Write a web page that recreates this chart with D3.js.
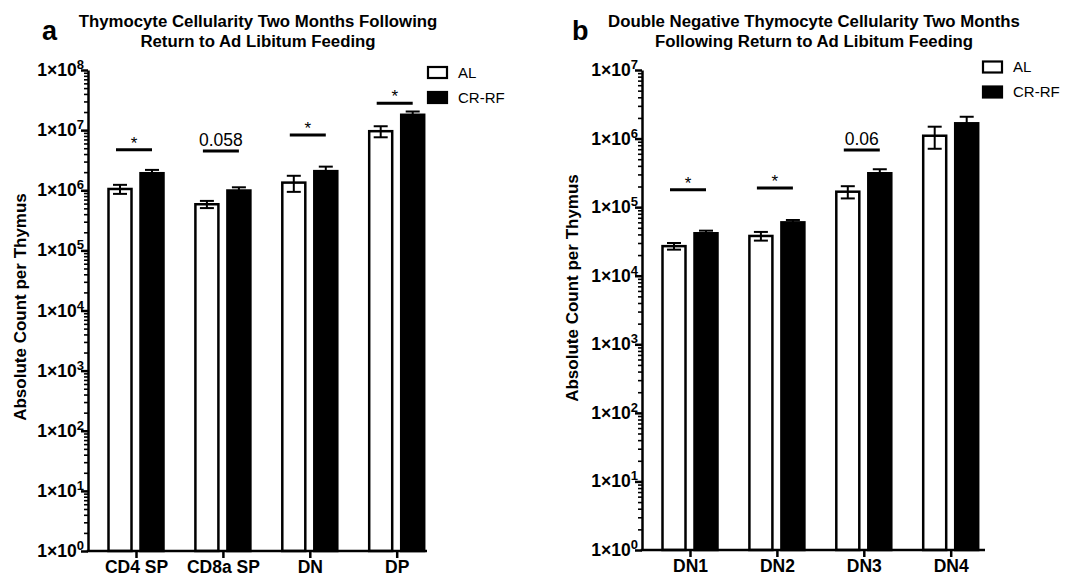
<!DOCTYPE html>
<html>
<head>
<meta charset="utf-8">
<script src="https://cdn.jsdelivr.net/npm/d3@7"></script>
<style>
  body { margin: 0; background: #fff; }
  svg text { font-family: "Liberation Sans", Arial, Helvetica, sans-serif; fill: #000; }
</style>
</head>
<body>
<svg id="chart" width="1074" height="579"></svg>
<script>
// panel a
const CATS_A = ["CD4 SP", "CD8a SP", "DN", "DP"];
const AL_MEAN_A = [1.05e6, 5.85e5, 1.34e6, 9.6e6];
const AL_SEM_A = [1.8e5, 8e4, 4e5, 2e6];
const CR_MEAN_A = [1.92e6, 9.9e5, 2.08e6, 1.8e7];
const CR_SEM_A = [2.6e5, 1.3e5, 3.9e5, 2.4e6];
const SIG_TEXT_A = ["*", "0.058", "*", "*"];
const SIG_LEVEL_A = [4.7e6, 4.5e6, 8.3e6, 2.8e7];
const DECADES_A = [1e0, 1e1, 1e2, 1e3, 1e4, 1e5, 1e6, 1e7, 1e8];

// panel b
const CATS_B = ["DN1", "DN2", "DN3", "DN4"];
const AL_MEAN_B = [2.7e4, 3.8e4, 1.68e5, 1.1e6];
const AL_SEM_B = [3e3, 5.5e3, 3.4e4, 3.9e5];
const CR_MEAN_B = [4.16e4, 6.0e4, 3.12e5, 1.67e6];
const CR_SEM_B = [3.8e3, 5e3, 4.5e4, 4.1e5];
const SIG_TEXT_B = ["*", "*", "0.06", ""];
const SIG_LEVEL_B = [1.8e5, 1.9e5, 6.8e5, null];
const DECADES_B = [1e0, 1e1, 1e2, 1e3, 1e4, 1e5, 1e6, 1e7];

const SERIES = ["AL", "CR-RF"];

const svg = d3.select("#chart");

function minorTicks(decades) {
  const out = [];
  decades.slice(0, -1).forEach(d => {
    for (let k = 2; k <= 9; k++) out.push(d * k);
  });
  return out;
}

function drawPanel(p) {
  const g = svg.append("g");
  const y = d3.scaleLog()
    .domain([p.decades[0], p.decades[p.decades.length - 1]])
    .range([p.bottom, p.top]);
  const x = d3.scalePoint()
    .domain(p.cats)
    .range([p.axisX + 48, p.axisX + 48 + 86.9 * (p.cats.length - 1)]);

  // bars
  const rows = p.cats.map((c, i) => ({
    cat: c,
    vals: [
      { s: 0, mean: p.alMean[i], sem: p.alSem[i] },
      { s: 1, mean: p.crMean[i], sem: p.crSem[i] }
    ]
  }));
  const barW = 23;
  const offs = [-27.5 + barW / 2, 4.5 + barW / 2];

  rows.forEach(r => {
    r.vals.forEach(v => {
      const cx = x(r.cat) + offs[v.s];
      g.append("rect")
        .attr("x", cx - barW / 2)
        .attr("y", y(v.mean))
        .attr("width", barW)
        .attr("height", y(p.decades[0]) - y(v.mean))
        .attr("fill", v.s === 0 ? "#fff" : "#000")
        .attr("stroke", "#000")
        .attr("stroke-width", 2.5);
      const hi = y(v.mean + v.sem), lo = y(v.mean - v.sem);
      const eb = g.append("g").attr("stroke", "#000").attr("stroke-width", 2);
      eb.append("line").attr("x1", cx).attr("x2", cx).attr("y1", hi).attr("y2", lo);
      eb.append("line").attr("x1", cx - 7).attr("x2", cx + 7).attr("y1", hi).attr("y2", hi);
      eb.append("line").attr("x1", cx - 7).attr("x2", cx + 7).attr("y1", lo).attr("y2", lo);
    });
  });

  // significance markers
  p.cats.forEach((c, i) => {
    if (!p.sigText[i]) return;
    const ly = y(p.sigLevel[i]);
    const cx = x(c) - 2;
    g.append("line")
      .attr("x1", cx - 18).attr("x2", cx + 18)
      .attr("y1", ly).attr("y2", ly)
      .attr("stroke", "#000").attr("stroke-width", 3);
    const isStar = p.sigText[i] === "*";
    g.append("text")
      .attr("x", cx)
      .attr("y", isStar ? ly - 1 : ly - 5)
      .attr("text-anchor", "middle")
      .style("font-size", isStar ? "17px" : "17.5px")
      .text(p.sigText[i]);
  });

  // y axis
  const yMajor = g.append("g")
    .attr("transform", `translate(${p.axisX},0)`)
    .call(d3.axisLeft(y).tickValues(p.decades).tickFormat("").tickSize(7).tickSizeOuter(0));
  yMajor.select(".domain").attr("stroke-width", 2.5);
  yMajor.selectAll(".tick line").attr("stroke-width", 2.5);

  const yMinor = g.append("g")
    .attr("transform", `translate(${p.axisX},0)`)
    .call(d3.axisLeft(y).tickValues(minorTicks(p.decades)).tickFormat("").tickSize(4).tickSizeOuter(0));
  yMinor.select(".domain").remove();
  yMinor.selectAll(".tick line").attr("stroke-width", 1.6);

  p.decades.forEach(d => {
    const t = g.append("text")
      .attr("x", p.axisX - 4)
      .attr("y", y(d) + 6)
      .attr("text-anchor", "end")
      .style("font-size", "17.5px")
      .style("font-weight", "bold");
    t.append("tspan").text("1×10");
    t.append("tspan")
      .attr("dy", -7)
      .style("font-size", "13px")
      .text(Math.round(Math.log10(d)));
  });

  // x axis
  g.append("line")
    .attr("x1", p.axisX - 1.25).attr("x2", p.axisEnd)
    .attr("y1", p.bottom).attr("y2", p.bottom)
    .attr("stroke", "#000").attr("stroke-width", 2.5);
  const xAx = g.append("g")
    .attr("transform", `translate(0,${p.bottom})`)
    .call(d3.axisBottom(x).tickSize(7).tickPadding(3));
  xAx.select(".domain").remove();
  xAx.selectAll(".tick line").attr("stroke-width", 2.5);
  xAx.selectAll(".tick text")
    .style("font-size", "17.5px")
    .style("font-weight", "bold")
    .style("font-family", "'Liberation Sans', Arial, sans-serif")
    .attr("fill", "#000");

  // axis title
  g.append("text")
    .attr("transform", `translate(${p.yTitleX},${p.yTitleY}) rotate(-90)`)
    .attr("text-anchor", "middle")
    .style("font-size", "17px")
    .style("font-weight", "bold")
    .text("Absolute Count per Thymus");

  // chart title
  p.title.forEach((line, i) => {
    g.append("text")
      .attr("x", p.titleX)
      .attr("y", 27 + i * 19.5)
      .attr("text-anchor", "middle")
      .style("font-size", "16.8px")
      .style("font-weight", "bold")
      .text(line);
  });
  g.append("text")
    .attr("x", p.letterX)
    .attr("y", 39.5)
    .style("font-size", "27px")
    .style("font-weight", "bold")
    .text(p.letter);

  // legend
  SERIES.forEach((s, i) => {
    const ly = p.legendY + i * 25;
    g.append("rect")
      .attr("x", p.legendX).attr("y", ly - 5.5)
      .attr("width", 19).attr("height", 11)
      .attr("fill", i === 0 ? "#fff" : "#000")
      .attr("stroke", "#000").attr("stroke-width", 2.2);
    g.append("text")
      .attr("x", p.legendX + 30).attr("y", ly + 5)
      .style("font-size", "15px")
      .text(s);
  });
}

drawPanel({
  cats: CATS_A, alMean: AL_MEAN_A, alSem: AL_SEM_A, crMean: CR_MEAN_A, crSem: CR_SEM_A,
  sigText: SIG_TEXT_A, sigLevel: SIG_LEVEL_A, decades: DECADES_A,
  axisX: 88, axisEnd: 427, top: 70, bottom: 551,
  yTitleX: 26, yTitleY: 307,
  title: ["Thymocyte Cellularity Two Months Following", "Return to Ad Libitum Feeding"],
  titleX: 258, letter: "a", letterX: 42,
  legendX: 428, legendY: 72.5
});

drawPanel({
  cats: CATS_B, alMean: AL_MEAN_B, alSem: AL_SEM_B, crMean: CR_MEAN_B, crSem: CR_SEM_B,
  sigText: SIG_TEXT_B, sigLevel: SIG_LEVEL_B, decades: DECADES_B,
  axisX: 642, axisEnd: 985, top: 70, bottom: 550,
  yTitleX: 578, yTitleY: 288,
  title: ["Double Negative Thymocyte Cellularity Two Months", "Following Return to Ad Libitum Feeding"],
  titleX: 814, letter: "b", letterX: 572,
  legendX: 983, legendY: 67
});
</script>
</body>
</html>
